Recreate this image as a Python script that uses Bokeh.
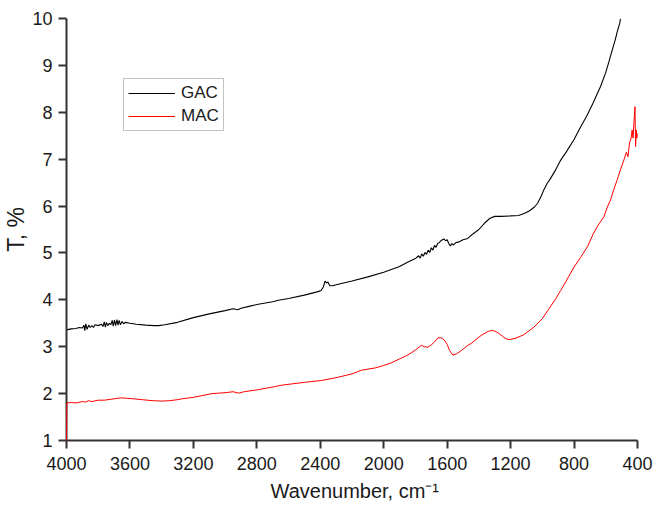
from bokeh.plotting import figure
from bokeh.models import Range1d, FixedTicker, Legend, LegendItem, Title
from bokeh.embed import file_html
from bokeh.resources import INLINE

# ---- data ----
gac_wn = [4000, 3970, 3940, 3920, 3900, 3890, 3885, 3878, 3870, 3860, 3850, 3840, 3830, 3820,
          3800, 3780, 3770, 3762, 3755, 3748, 3740, 3730, 3720, 3712, 3705, 3698, 3690, 3682,
          3675, 3668, 3660, 3650, 3640, 3630, 3600, 3560, 3500, 3450, 3420, 3380, 3300, 3200,
          3100, 3000, 2950, 2920, 2900, 2850, 2800, 2700, 2664, 2600, 2500, 2420, 2395, 2380,
          2370, 2360, 2352, 2340, 2320, 2300, 2200, 2100, 2000, 1900, 1850, 1800, 1780, 1770,
          1760, 1750, 1740, 1730, 1720, 1710, 1700, 1690, 1680, 1670, 1660, 1650, 1640, 1630,
          1620, 1610, 1600, 1590, 1580, 1570, 1560, 1545, 1530, 1500, 1470, 1440, 1400, 1360,
          1330, 1300, 1260, 1200, 1150, 1114, 1080, 1050, 1030, 1009, 990, 970, 950, 920, 884,
          850, 800, 758, 720, 680, 633, 600, 580, 559, 540, 525, 512, 507]
gac_t = [3.36, 3.38, 3.39, 3.41, 3.40, 3.46, 3.34, 3.49, 3.37, 3.46, 3.41, 3.45, 3.41, 3.47,
         3.45, 3.48, 3.43, 3.53, 3.42, 3.52, 3.45, 3.50, 3.47, 3.56, 3.44, 3.57, 3.45, 3.58,
         3.46, 3.56, 3.47, 3.54, 3.49, 3.52, 3.50, 3.48, 3.46, 3.45, 3.45, 3.47, 3.52, 3.62,
         3.70, 3.77, 3.81, 3.79, 3.82, 3.86, 3.90, 3.96, 3.99, 4.03, 4.10, 4.17, 4.20, 4.28,
         4.40, 4.36, 4.38, 4.30, 4.30, 4.32, 4.40, 4.49, 4.59, 4.71, 4.80, 4.88, 4.94, 4.89,
         4.98, 4.93, 5.01, 4.97, 5.06, 5.01, 5.11, 5.06, 5.16, 5.12, 5.20, 5.22, 5.26, 5.28,
         5.30, 5.26, 5.28, 5.20, 5.15, 5.20, 5.17, 5.22, 5.23, 5.28, 5.31, 5.40, 5.50, 5.65,
         5.74, 5.78, 5.78, 5.79, 5.80, 5.84, 5.90, 5.98, 6.06, 6.20, 6.35, 6.48, 6.58, 6.75, 6.98,
         7.15, 7.42, 7.69, 7.92, 8.20, 8.55, 8.85, 9.08, 9.33, 9.55, 9.75, 9.90, 10.0]

mac_wn = [4000, 3998, 3970, 3940, 3900, 3880, 3860, 3840, 3800, 3760, 3720, 3680, 3648, 3620,
          3580, 3520, 3460, 3397, 3350, 3300, 3271, 3200, 3083, 3000, 2950, 2915, 2880, 2800,
          2700, 2643, 2500, 2392, 2300, 2200, 2140, 2050, 2000, 1950, 1900, 1850, 1800, 1763,
          1745, 1721, 1700, 1680, 1658, 1638, 1620, 1600, 1585, 1564, 1540, 1510, 1470, 1449,
          1386, 1340, 1313, 1280, 1250, 1230, 1209, 1170, 1120, 1052, 1000, 960, 920, 884, 850,
          800, 760, 716, 680, 650, 612, 590, 570, 550, 528, 505, 486, 470, 460, 450, 440, 434,
          428, 422, 416, 412, 407, 404, 402]
mac_t = [1.00, 1.80, 1.81, 1.80, 1.83, 1.82, 1.85, 1.83, 1.86, 1.86, 1.88, 1.90, 1.91, 1.90,
         1.89, 1.87, 1.85, 1.84, 1.85, 1.87, 1.89, 1.92, 2.00, 2.02, 2.04, 2.01, 2.04, 2.08,
         2.14, 2.18, 2.24, 2.28, 2.34, 2.42, 2.50, 2.55, 2.60, 2.66, 2.74, 2.82, 2.93, 3.03,
         3.00, 2.99, 3.04, 3.10, 3.19, 3.19, 3.15, 3.05, 2.92, 2.82, 2.85, 2.92, 3.03, 3.07,
         3.24, 3.33, 3.35, 3.30, 3.22, 3.17, 3.15, 3.18, 3.25, 3.42, 3.60, 3.80, 4.00, 4.20, 4.40,
         4.70, 4.90, 5.13, 5.40, 5.58, 5.77, 5.98, 6.13, 6.35, 6.56, 6.80, 6.98, 7.15, 7.05, 7.35,
         7.45, 7.62, 7.45, 7.80, 8.12, 7.27, 7.62, 7.45, 7.55]

x_ticks = [4000, 3600, 3200, 2800, 2400, 2000, 1600, 1200, 800, 400]
y_ticks = [1, 2, 3, 4, 5, 6, 7, 8, 9, 10]
series_names = ["GAC", "MAC"]
series_colors = ["#000000", "#ff0000"]

FONT = "Liberation Sans"

p = figure(width=656, height=507, output_backend="svg", toolbar_location=None,
           x_range=Range1d(4000, 400), y_range=Range1d(1, 10),
           min_border_left=64, min_border_right=19, min_border_top=18, min_border_bottom=67)
p.title = None
p.outline_line_color = None
p.xgrid.visible = False
p.ygrid.visible = False
p.background_fill_color = "white"
p.border_fill_color = "white"

r1 = p.line(gac_wn, gac_t, line_color=series_colors[0], line_width=1.1)
r2 = p.line(mac_wn, mac_t, line_color=series_colors[1], line_width=1.0, level="overlay")

for ax in (p.xaxis[0], p.yaxis[0]):
    ax.axis_line_color = "#333333"
    ax.axis_line_width = 2
    ax.major_tick_line_color = "#333333"
    ax.major_tick_line_width = 2
    ax.major_tick_in = 0
    ax.major_tick_out = 8
    ax.minor_tick_line_color = None
    ax.major_label_text_font = FONT
    ax.major_label_text_font_size = "18px"
    ax.major_label_text_color = "#1a1a1a"
    ax.axis_label_text_font = FONT
    ax.axis_label_text_font_style = "normal"
    ax.axis_label_text_color = "#1a1a1a"

p.xaxis[0].major_label_standoff = 8
p.yaxis[0].major_label_standoff = 6
p.xaxis[0].ticker = FixedTicker(ticks=x_ticks)
p.yaxis[0].ticker = FixedTicker(ticks=y_ticks)
p.yaxis[0].axis_label = "T, %"
p.yaxis[0].axis_label_text_font_size = "23px"
p.yaxis[0].axis_label_standoff = 0
p.xaxis[0].axis_label = None

xt = Title(text="Wavenumber, cm\u207b\u00b9", align="left", offset=204,
           text_font=FONT, text_font_size="20px", text_font_style="normal",
           text_color="#1a1a1a", standoff=11)
p.add_layout(xt, "below")

legend = Legend(items=[LegendItem(label=series_names[0], renderers=[r1]),
                       LegendItem(label=series_names[1], renderers=[r2])],
                location=(57, 309), orientation="vertical",
                label_text_font=FONT, label_text_font_size="17px", label_text_color="#1a1a1a",
                glyph_width=47, glyph_height=20, spacing=3, padding=4, margin=0,
                label_standoff=6, border_line_color="#888888", border_line_width=1.5,
                background_fill_alpha=1.0)
p.add_layout(legend)

open("out.html", "w").write(file_html(p, INLINE))
